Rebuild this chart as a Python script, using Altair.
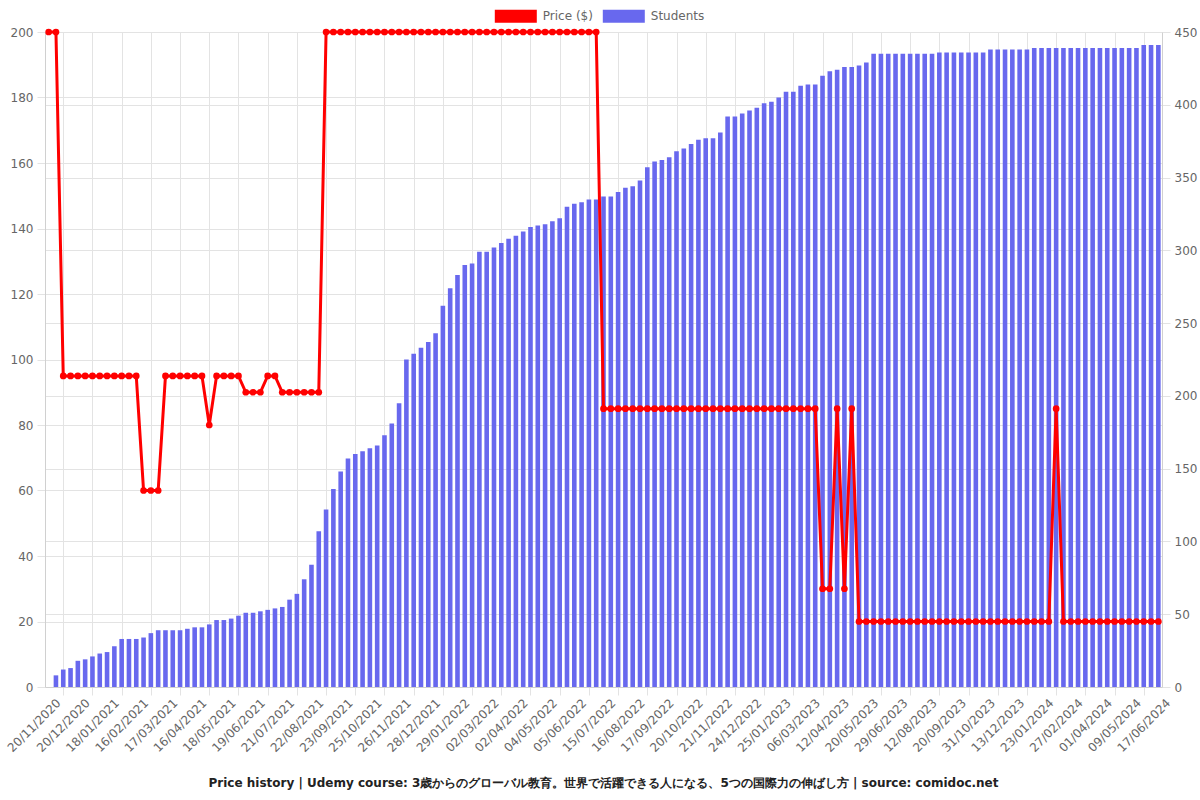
import altair as alt
import pandas as pd

tick_labels = ["20/11/2020", "20/12/2020", "18/01/2021", "16/02/2021", "17/03/2021", "16/04/2021",
               "18/05/2021", "19/06/2021", "21/07/2021", "22/08/2021", "23/09/2021", "25/10/2021",
               "26/11/2021", "28/12/2021", "29/01/2022", "02/03/2022", "02/04/2022", "04/05/2022",
               "05/06/2022", "15/07/2022", "16/08/2022", "17/09/2022", "20/10/2022", "21/11/2022",
               "24/12/2022", "25/01/2023", "06/03/2023", "12/04/2023", "20/05/2023", "29/06/2023",
               "12/08/2023", "20/09/2023", "31/10/2023", "13/12/2023", "23/01/2024", "27/02/2024",
               "01/04/2024", "09/05/2024", "17/06/2024"]

price = [200, 200,
         95, 95, 95, 95, 95, 95, 95, 95, 95, 95, 95,
         60, 60, 60,
         95, 95, 95, 95, 95, 95,
         80,
         95, 95, 95, 95,
         90, 90, 90,
         95, 95,
         90, 90, 90, 90, 90, 90,
         200, 200, 200, 200, 200, 200, 200, 200, 200, 200, 200, 200, 200, 200, 200, 200, 200, 200, 200,
         200, 200, 200, 200, 200, 200, 200, 200, 200, 200, 200, 200, 200, 200, 200, 200, 200, 200, 200,
         85, 85, 85, 85, 85, 85, 85, 85, 85, 85, 85, 85, 85, 85, 85,
         85, 85, 85, 85, 85, 85, 85, 85, 85, 85, 85, 85, 85, 85, 85,
         30, 30, 85, 30, 85,
         20, 20, 20, 20, 20, 20, 20, 20, 20, 20, 20, 20, 20, 20, 20, 20, 20, 20, 20, 20, 20, 20, 20, 20,
         20, 20, 20,
         85,
         20, 20, 20, 20, 20, 20, 20, 20, 20, 20, 20, 20, 20, 20]

students = [0, 8, 12, 13, 18, 19, 21, 23, 24, 28,
            33, 33, 33, 34, 37, 39, 39, 39, 39, 40,
            41, 41, 43, 46, 46, 47, 49, 51, 51, 52,
            53, 54, 55, 60, 64, 74, 84, 107, 122, 136,
            148, 157, 160, 162, 164, 166, 173, 181, 195, 225,
            229, 233, 237, 243, 262, 274, 283, 290, 291, 299,
            299, 302, 305, 308, 310, 313, 316, 317, 318, 320,
            322, 330, 332, 333, 335, 335, 337, 337, 340, 343,
            344, 348, 357, 361, 362, 364, 368, 370, 373, 376,
            377, 377, 381, 392, 392, 394, 396, 398, 401, 402,
            405, 409, 409, 413, 414, 414, 420, 423, 424, 426,
            426, 427, 429, 435, 435, 435, 435, 435, 435, 435,
            435, 435, 436, 436, 436, 436, 436, 436, 436, 438,
            438, 438, 438, 438, 438, 439, 439, 439, 439, 439,
            439, 439, 439, 439, 439, 439, 439, 439, 439, 439,
            441, 441, 441]

series_names = ["Price ($)", "Students"]
series_colors = ["#ff0000", "#6868ee"]

title_text = ("Price history | Udemy course: 3歳からのグローバル教育。世界で活躍できる人になる、"
              "5つの国際力の伸ばし方 | source: comidoc.net")

n = len(price)
df = pd.DataFrame({"idx": list(range(n)), "price": price, "students": students})

FONT = "DejaVu Sans"
GRID = "#e3e3e3"
LABEL = "#666666"

label_array = "[" + ",".join("'%s'" % t for t in tick_labels) + "]"
x_axis = alt.Axis(
    values=list(range(0, n, 2)),
    labelExpr="datum.value % 4 == 0 ? " + label_array + "[datum.value / 4] : ''",
    labelAngle=-45, labelAlign="right", labelBaseline="top",
    labelOverlap=False, labelFlush=False, labelPadding=2, labelOffset=6,
    labelFont=FONT, labelFontSize=12, labelColor=LABEL,
    grid=True, gridColor=GRID,
    gridOpacity={"condition": {"test": "datum.value % 4 == 2", "value": 1}, "value": 0},
    tickOpacity={"condition": {"test": "datum.value % 4 == 2", "value": 1}, "value": 0},
    tickSize=8, tickColor=GRID, domainColor="#d0d0d0", title=None,
)
x_enc = alt.X("idx:Q", scale=alt.Scale(domain=[-0.5, n - 0.5], nice=False, zero=False, padding=0),
              axis=x_axis)

color_scale = alt.Scale(domain=series_names, range=series_colors)
legend = alt.Legend(
    title=None, orient="none", legendX=449.8, legendY=-37, direction="horizontal",
    symbolType="M-1,-0.31L1,-0.31L1,0.31L-1,0.31Z", symbolSize=1764, symbolStrokeWidth=0,
    symbolOpacity=1, labelFont=FONT, labelFontSize=12, labelColor=LABEL,
    labelOffset=6, columnPadding=9, padding=0,
)

bars = alt.Chart(df).transform_calculate(series="'Students'").mark_bar(size=4.6).encode(
    x=x_enc,
    y=alt.Y("students:Q", scale=alt.Scale(domain=[0, 450], nice=False),
            axis=alt.Axis(orient="right", values=list(range(0, 451, 50)), grid=True, gridColor=GRID,
                          tickSize=8, tickColor=GRID, domainColor="#d0d0d0", labelPadding=4,
                          labelFont=FONT, labelFontSize=12, labelColor=LABEL, title=None)),
    color=alt.Color("series:N", scale=color_scale, legend=legend),
)

line = alt.Chart(df).transform_calculate(series="'Price ($)'").mark_line(
    strokeWidth=3, point=alt.OverlayMarkDef(filled=True, size=45, opacity=1)
).encode(
    x=x_enc,
    y=alt.Y("price:Q", scale=alt.Scale(domain=[0, 200], nice=False),
            axis=alt.Axis(orient="left", values=list(range(0, 201, 20)), grid=True, gridColor=GRID,
                          tickSize=8, tickColor=GRID, domainColor="#d0d0d0", labelPadding=4,
                          labelFont=FONT, labelFontSize=12, labelColor=LABEL, title=None)),
    color=alt.Color("series:N", scale=color_scale, legend=legend),
)

chart = alt.layer(bars, line).resolve_scale(y="independent").properties(
    width=1117, height=655,
    autosize=alt.AutoSizeParams(type="none"),
    padding={"left": 45, "top": 32, "right": 38, "bottom": 113},
    title=alt.TitleParams(text=title_text, orient="bottom", anchor="middle", frame="group",
                          offset=24, font=FONT, fontSize=12, fontWeight="bold", color="#222222"),
).configure_view(stroke=None)

chart.save("out.html", embed_options={"renderer": "svg", "actions": False})
